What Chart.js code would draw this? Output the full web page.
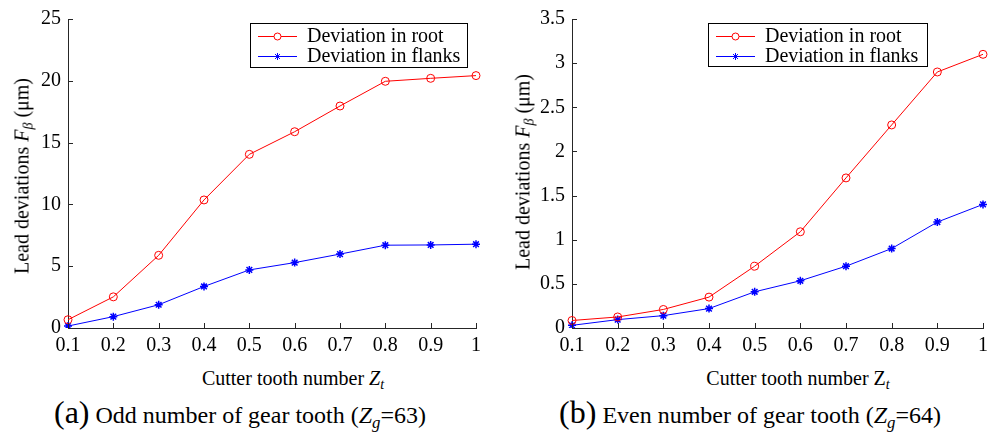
<!DOCTYPE html>
<html>
<head>
<meta charset="utf-8">
<script src="https://cdn.jsdelivr.net/npm/chart.js@4"></script>
<style>
  html, body { margin: 0; padding: 0; background: #fff; }
  body { width: 998px; height: 439px; position: relative; overflow: hidden; font-family: 'Liberation Serif', 'Times New Roman', Tinos, 'DejaVu Serif', serif; color: #000; }
  .box { position: absolute; top: 0; height: 360px; }
  .ytitle { position: absolute; font-size: 20px; white-space: nowrap; transform: translate(-50%, -50%) rotate(-90deg); }
  .xtitle { position: absolute; font-size: 20px; white-space: nowrap; transform: translate(-50%, -50%); }
  .caption { position: absolute; font-size: 24px; white-space: nowrap; transform: translate(-50%, -50%); }
  .caption .tag { font-size: 32px; }
  sub { font-size: 70%; vertical-align: -0.3em; line-height: 0; }
</style>
</head>
<body>
<div class="box" style="left:0;width:500px"><canvas id="left"></canvas></div>
<div class="box" style="left:500px;width:498px"><canvas id="right"></canvas></div>

<div class="ytitle" style="left:22px;top:176px">Lead deviations <i>F</i><sub><i>β</i></sub> (μm)</div>
<div class="ytitle" style="left:523px;top:172px">Lead deviations <i>F</i><sub><i>β</i></sub> (μm)</div>
<div class="xtitle" style="left:293px;top:378px">Cutter tooth number <i>Z</i><sub><i>t</i></sub></div>
<div class="xtitle" style="left:798px;top:378px">Cutter tooth number Z<sub><i>t</i></sub></div>
<div class="caption" style="left:240px;top:412px"><span class="tag">(a)</span> Odd number of gear tooth (<i>Z</i><sub><i>g</i></sub>=63)</div>
<div class="caption" style="left:750px;top:412px"><span class="tag">(b)</span> Even number of gear tooth (<i>Z</i><sub><i>g</i></sub>=64)</div>

<script>
// cutter tooth positions (shared x axis)
const toothLabels = ['0.1', '0.2', '0.3', '0.4', '0.5', '0.6', '0.7', '0.8', '0.9', '1'];

// (a) odd number of gear tooth, Zg = 63
const oddRoot   = [0.67, 2.52, 5.88, 10.36, 14.05, 15.88, 17.96, 19.96, 20.2, 20.42];
const oddFlanks = [0.16, 0.92, 1.88, 3.36, 4.7, 5.29, 5.98, 6.7, 6.72, 6.78];
const oddTicks  = [0, 5, 10, 15, 20, 25];

// (b) even number of gear tooth, Zg = 64
const evenRoot   = [0.085, 0.125, 0.21, 0.35, 0.70, 1.09, 1.70, 2.30, 2.90, 3.10];
const evenFlanks = [0.03, 0.095, 0.14, 0.22, 0.41, 0.535, 0.70, 0.90, 1.20, 1.40];
const evenTicks  = [0, 0.5, 1, 1.5, 2, 2.5, 3, 3.5];

const seriesNames = ['Deviation in root', 'Deviation in flanks'];

const FONT = "'Liberation Serif', 'Times New Roman', Tinos, 'DejaVu Serif', serif";
const AXIS = '#262626';

// inward tick marks, MATLAB style
const inwardTicks = {
  id: 'inwardTicks',
  afterDraw(chart) {
    const {ctx, chartArea, scales} = chart;
    ctx.save();
    ctx.strokeStyle = AXIS;
    ctx.lineWidth = 1;
    ctx.beginPath();
    scales.x.ticks.forEach((_, i) => {
      const px = Math.round(scales.x.getPixelForTick(i)) + 0.5;
      ctx.moveTo(px, chartArea.bottom);
      ctx.lineTo(px, chartArea.bottom - 5);
    });
    scales.y.ticks.forEach((_, i) => {
      const py = Math.round(scales.y.getPixelForTick(i)) + 0.5;
      ctx.moveTo(chartArea.left, py);
      ctx.lineTo(chartArea.left + 5, py);
    });
    ctx.stroke();
    ctx.restore();
  }
};

// boxed legend drawn inside the plot
const boxLegend = {
  id: 'boxLegend',
  afterDraw(chart, args, opts) {
    const {ctx} = chart;
    const {x, y, w, h} = opts;
    ctx.save();
    ctx.fillStyle = '#fff';
    ctx.fillRect(x, y, w, h);
    ctx.strokeStyle = '#000';
    ctx.lineWidth = 1;
    ctx.strokeRect(x + 0.5, y + 0.5, w, h);
    ctx.font = '20px ' + FONT;
    ctx.textBaseline = 'middle';
    chart.data.datasets.forEach((ds, i) => {
      const cy = y + 13 + i * 20;
      ctx.strokeStyle = ds.borderColor;
      ctx.beginPath();
      ctx.moveTo(x + 8, cy + 0.5);
      ctx.lineTo(x + 47, cy + 0.5);
      ctx.stroke();
      Chart.helpers.drawPoint(ctx, {pointStyle: ds.pointStyle, radius: ds.pointRadius - 0.5, borderWidth: 1}, x + 27.5, cy + 0.5);
      ctx.fillStyle = '#000';
      ctx.fillText(ds.label, x + 57, cy + 1);
    });
    ctx.restore();
  }
};

function makeChart(id, root, flanks, ticks, layout) {
  const yMax = ticks[ticks.length - 1];
  const step = ticks[1] - ticks[0];
  return new Chart(document.getElementById(id), {
    type: 'line',
    data: {
      labels: toothLabels,
      datasets: [
        { label: seriesNames[0], data: root, borderColor: '#ff0000', backgroundColor: 'rgba(0,0,0,0)',
          borderWidth: 1, pointStyle: 'circle', pointRadius: 4, pointBorderWidth: 1, tension: 0 },
        { label: seriesNames[1], data: flanks, borderColor: '#0000ff', backgroundColor: '#0000ff',
          borderWidth: 1, pointStyle: 'star', pointRadius: 4, pointBorderWidth: 1.5, tension: 0 }
      ]
    },
    options: {
      responsive: true,
      maintainAspectRatio: false,
      animation: false,
      events: [],
      layout: { padding: { left: 0, top: layout.top, right: layout.right, bottom: 0 } },
      plugins: {
        legend: { display: false },
        tooltip: { enabled: false },
        boxLegend: layout.legend
      },
      scales: {
        x: {
          type: 'category',
          offset: false,
          grid: { display: true, drawOnChartArea: false, drawTicks: false },
          border: { display: true, color: AXIS, width: 1 },
          ticks: { font: { family: FONT, size: 20 }, color: '#000', padding: 6, maxRotation: 0, autoSkip: false },
          afterFit(scale) { scale.height = 32; }
        },
        y: {
          min: 0, max: yMax,
          grid: { display: true, drawOnChartArea: false, drawTicks: false },
          border: { display: true, color: AXIS, width: 1 },
          ticks: { stepSize: step, font: { family: FONT, size: 20 }, color: '#000', padding: 7,
                   callback: v => String(Math.round(v * 100) / 100) },
          afterFit(scale) { scale.width = layout.yWidth; }
        }
      }
    },
    plugins: [inwardTicks, boxLegend]
  });
}

makeChart('left', oddRoot, oddFlanks, oddTicks,
  { top: 16, right: 24, yWidth: 68, legend: { x: 250, y: 23, w: 217, h: 44 } });
makeChart('right', evenRoot, evenFlanks, evenTicks,
  { top: 17, right: 15, yWidth: 72, legend: { x: 208, y: 23, w: 219, h: 43 } });
</script>
</body>
</html>
